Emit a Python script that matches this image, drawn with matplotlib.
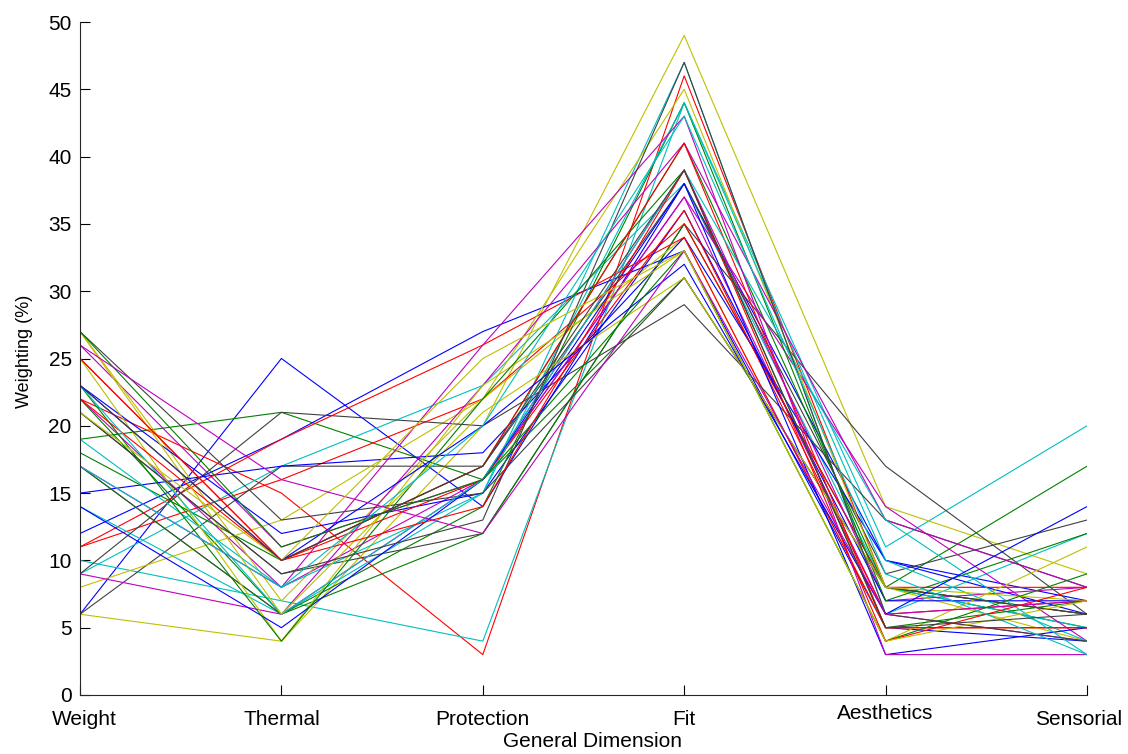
import numpy as np
import matplotlib.pyplot as plt
from matplotlib.transforms import ScaledTranslation

plt.rcParams['font.family'] = ['Liberation Sans', 'DejaVu Sans']

# ============================================================
# DATA — one entry per respondent
# ============================================================

dimensions = ['Weight', 'Thermal', 'Protection', 'Fit', 'Aesthetics', 'Sensorial']

weight     = [6, 19, 22, 10, 26, 6, 21,
              12, 22, 11, 9, 22, 27, 6,
              15, 18, 11, 14, 17, 8, 9,
              23, 17, 25, 19, 9, 25, 27,
              14, 23, 22, 23, 17, 27, 21,
              23, 27, 25, 17, 26, 21, 23]
thermal    = [25, 21, 15, 7, 11, 4, 9,
              19, 6, 16, 17, 8, 7, 17,
              17, 10, 19, 6, 6, 13, 21,
              12, 6, 10, 8, 6, 4, 13,
              5, 4, 10, 6, 8, 6, 9,
              10, 11, 10, 8, 16, 10, 10]
protection = [14, 16, 3, 4, 16, 20, 12,
              27, 12, 22, 23, 16, 22, 17,
              18, 17, 26, 15, 16, 22, 20,
              15, 14, 16, 15, 23, 23, 15,
              16, 22, 17, 16, 26, 21, 13,
              20, 16, 14, 20, 12, 25, 17]
fit        = [38, 31, 46, 44, 37, 49, 35,
              33, 35, 35, 38, 39, 34, 38,
              34, 41, 34, 47, 37, 45, 29,
              36, 44, 36, 44, 41, 33, 31,
              38, 39, 41, 39, 43, 31, 47,
              32, 33, 39, 43, 33, 33, 39]
aesthetics = [10, 8, 8, 11, 6, 14, 17,
              5, 8, 8, 8, 7, 5, 9,
              10, 8, 5, 6, 14, 8, 13,
              7, 7, 6, 10, 13, 4, 8,
              3, 5, 5, 13, 3, 8, 6,
              6, 4, 4, 9, 6, 4, 5]
sensorial  = [7, 5, 6, 20, 4, 9, 6,
              4, 17, 8, 5, 8, 5, 13,
              6, 6, 5, 12, 4, 4, 8,
              7, 12, 7, 4, 8, 11, 6,
              5, 7, 5, 3, 3, 7, 4,
              14, 9, 8, 3, 7, 7, 6]

# classic colour order, one colour per line in turn
line_colors = [(0, 0, 1), (0, 0.5, 0), (1, 0, 0), (0, 0.75, 0.75),
               (0.75, 0, 0.75), (0.75, 0.75, 0), (0.25, 0.25, 0.25)]

data = np.column_stack([weight, thermal, protection, fit, aesthetics, sensorial])
x = np.arange(len(dimensions))

# ============================================================
# PLOT
# ============================================================

fig = plt.figure(figsize=(11.28, 7.54), dpi=100)
ax = fig.add_axes([80 / 1128, 59 / 754, 1007 / 1128, 673 / 754])

for i, row in enumerate(data):
    ax.plot(x, row, color=line_colors[i % len(line_colors)], linewidth=0.8)

ax.set_xlim(0, len(dimensions) - 1)
ax.set_ylim(0, 50)
ax.set_yticks(np.arange(0, 51, 5))
ax.set_xticks(x)
ax.set_xticklabels(dimensions)

ax.spines['top'].set_visible(False)
ax.spines['right'].set_visible(False)
for s in ('left', 'bottom'):
    ax.spines[s].set_linewidth(0.8)
    ax.spines[s].set_color('#262626')

ax.tick_params(axis='y', direction='in', length=7, width=0.8, labelsize=15, pad=6)
ax.tick_params(axis='x', direction='in', length=7, width=0.8, labelsize=15, pad=11)

# Weight nudged right, Aesthetics a little higher, Sensorial pulled inside
labels = ax.get_xticklabels()
labels[0].set_transform(labels[0].get_transform()
                        + ScaledTranslation(4 / 100, 0, fig.dpi_scale_trans))
labels[4].set_transform(labels[4].get_transform()
                        + ScaledTranslation(0, 6 / 100, fig.dpi_scale_trans))
labels[5].set_transform(labels[5].get_transform()
                        + ScaledTranslation(-8 / 100, 0, fig.dpi_scale_trans))

ax.set_xlabel('General Dimension', fontsize=15, labelpad=0)
ax.xaxis.set_label_coords(0.509, -0.055)
ax.xaxis.label.set_va('top')
ax.set_ylabel('Weighting (%)', fontsize=13)
ax.yaxis.set_label_coords(-0.047, 0.51)

plt.savefig('out.png', dpi=100)
